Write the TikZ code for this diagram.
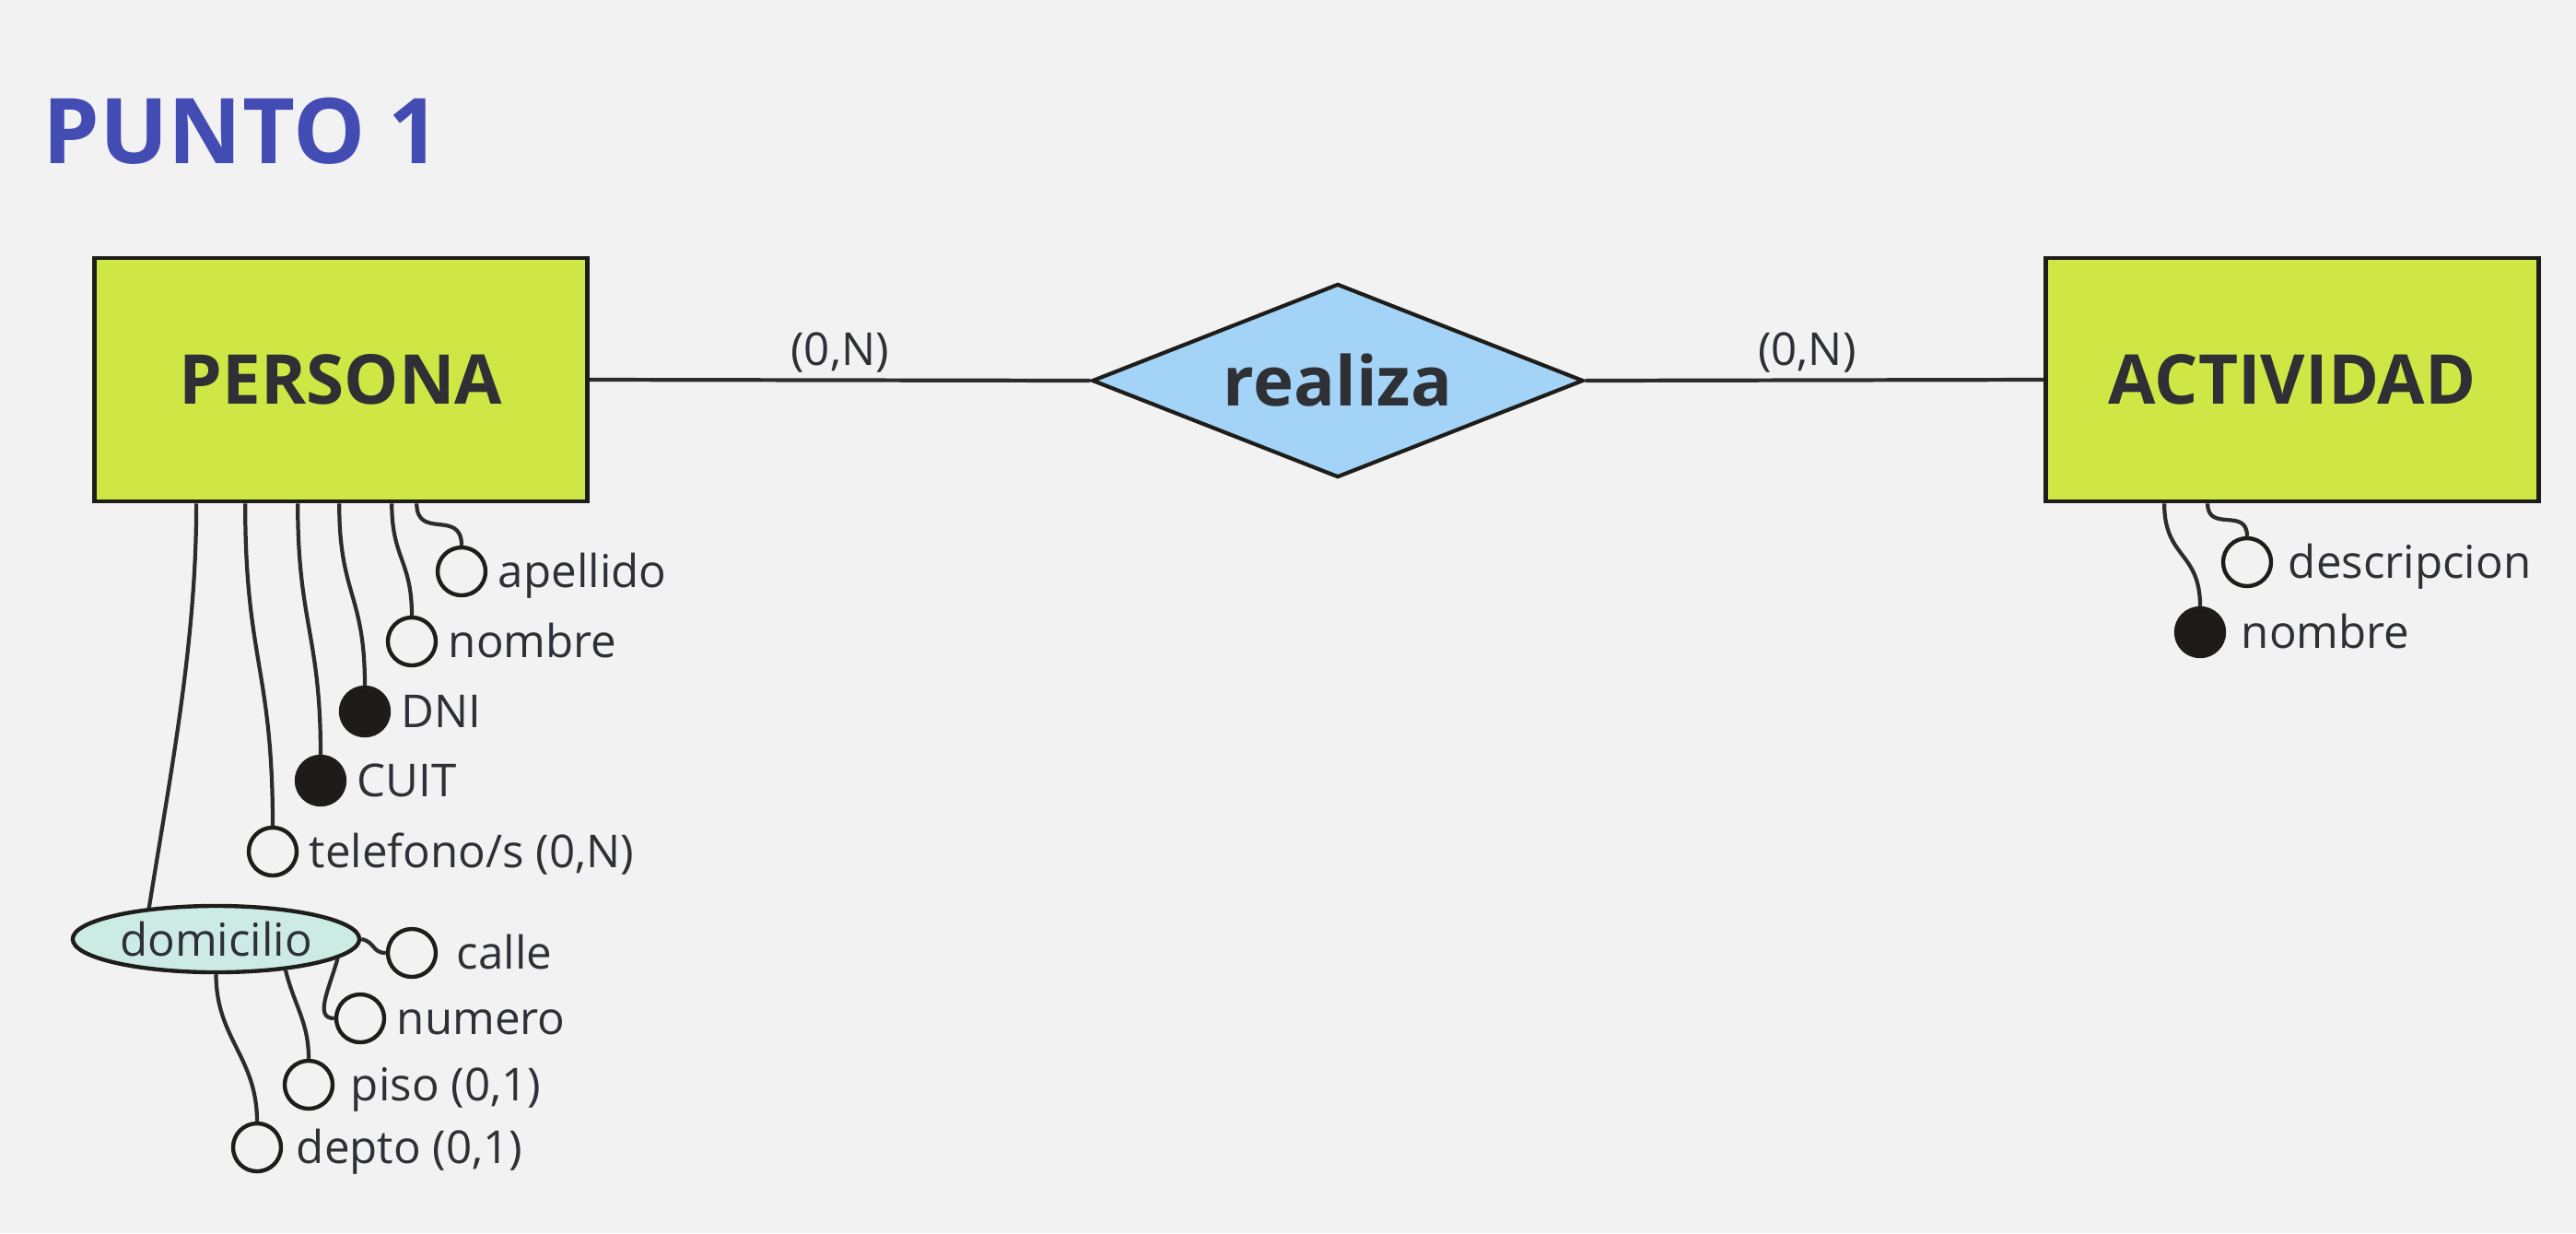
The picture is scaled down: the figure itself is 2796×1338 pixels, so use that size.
\documentclass[tikz,border=0pt]{standalone}
\usepackage{fontspec}
\setmainfont{Open Sans}
\usetikzlibrary{shapes.geometric}
\definecolor{bg}{HTML}{F2F2F2}
\definecolor{entfill}{HTML}{CFE744}
\definecolor{relfill}{HTML}{A3D4F7}
\definecolor{ellfill}{HTML}{CDEBE5}
\definecolor{keyfill}{HTML}{1C1B19}
\definecolor{boxline}{HTML}{1E1D1A}
\definecolor{txt}{HTML}{2E3035}
\definecolor{conncol}{HTML}{2C2C2C}
\definecolor{titlecol}{HTML}{434CB3}
\begin{document}
\begin{tikzpicture}[x=0.01cm,y=-0.01cm,
  entity/.style={draw=boxline, line width=1.3pt, fill=entfill, minimum width=5.35cm, minimum height=2.64cm, inner sep=0pt, text=txt, font=\fontsize{21.2}{26}\selectfont\bfseries},
  rel/.style={diamond, draw=boxline, line width=1.2pt, fill=relfill, minimum width=5.33cm, minimum height=2.1cm, aspect=2.5, inner sep=0pt, text=txt, font=\fontsize{21.2}{26}\selectfont\bfseries},
  attr/.style={circle, draw=boxline, line width=1.25pt, fill=bg, minimum size=0.52cm, inner sep=0pt},
  keyattr/.style={attr, fill=keyfill},
  composite/.style={ellipse, draw=boxline, line width=1.25pt, fill=ellfill, minimum width=3.11cm, minimum height=0.72cm, inner sep=0pt, text=txt, font=\fontsize{14}{17}\selectfont},
  lab/.style={anchor=base west, inner sep=0pt, xshift=0.11cm, yshift=-0.17cm, text=txt, font=\fontsize{14}{17}\selectfont},
  card/.style={inner sep=0pt, text=txt, font=\fontsize{14}{17}\selectfont},
  conn/.style={draw=conncol, line width=1.2pt},
  titlestyle/.style={anchor=base west, inner sep=0pt, text=titlecol, font=\fontsize{28}{33}\selectfont\bfseries},
]
\fill[bg] (0,0) rectangle (2796,1338);
\useasboundingbox (0,0) rectangle (2796,1338);

\node[titlestyle] (title) at (46,177) {PUNTO 1};

% entities and relationship
\node[entity] (persona) at (370,412) {PERSONA};
\node[entity] (actividad) at (2488,412) {ACTIVIDAD};
\node[rel] (realiza) at (1452,413) {realiza};

\draw[conn] (persona.east) -- node[card, above=0.06cm] (c1) {(0,N)} (realiza.west);
\draw[conn] (realiza.east) -- node[card, above=0.06cm, xshift=-0.08cm] (c2) {(0,N)} (actividad.west);

% PERSONA attributes
\node[attr] (apellido) at (501,620) {};
\node[attr] (nombre) at (447,696) {};
\node[keyattr] (dni) at (396,772) {};
\node[keyattr] (cuit) at (348,847) {};
\node[attr] (telefono) at (296,924) {};
\node[composite] (domicilio) at (234.5,1019) {domicilio};

\node[lab] (tapellido) at (apellido.east) {apellido};
\node[lab] (tnombre) at (nombre.east) {nombre};
\node[lab] (tdni) at (dni.east) {DNI};
\node[lab] (tcuit) at (cuit.east) {CUIT};
\node[lab] (ttelefono) at (telefono.east) {telefono/s (0,N)};

\draw[conn] ([xshift=3.52cm]persona.south west) .. controls +(0,40) and +(0,-40) .. (apellido.north);
\draw[conn] ([xshift=3.25cm]persona.south west) .. controls +(0,60) and +(0,-60) .. (nombre.north);
\draw[conn] ([xshift=2.68cm]persona.south west) .. controls +(0,100) and +(0,-100) .. (dni.north);
\draw[conn] ([xshift=2.23cm]persona.south west) .. controls +(0,130) and +(0,-130) .. (cuit.north);
\draw[conn] ([xshift=1.66cm]persona.south west) .. controls +(0,170) and +(0,-170) .. (telefono.north);
\draw[conn] ([xshift=1.13cm]persona.south west) .. controls +(0,150) and +(24,-150) .. (domicilio.155);

% domicilio components
\node[attr] (calle) at (447,1034) {};
\node[attr] (numero) at (391,1105) {};
\node[attr] (piso) at (335,1177) {};
\node[attr] (depto) at (279,1245) {};

\node[lab, xshift=0.09cm] (tcalle) at (calle.east) {calle};
\node[lab] (tnumero) at (numero.east) {numero};
\node[lab, xshift=0.06cm] (tpiso) at (piso.east) {piso (0,1)};
\node[lab, xshift=0.03cm] (tdepto) at (depto.east) {depto (0,1)};

\draw[conn] (domicilio.east) .. controls +(15,3) and +(-15,0) .. (calle.west);
\draw[conn] (domicilio.-9) .. controls +(-10,35) and +(-22,0) .. (numero.west);
\draw[conn] (domicilio.-24) .. controls +(10,40) and +(0,-40) .. (piso.north);
\draw[conn] (domicilio.south) .. controls +(0,70) and +(0,-70) .. (depto.north);

% ACTIVIDAD attributes
\node[attr] (descripcion) at (2439,610) {};
\node[keyattr] (nombreact) at (2388,686) {};
\node[lab, xshift=0.05cm] (tdescripcion) at (descripcion.east) {descripcion};
\node[lab, xshift=0.05cm] (tnombreact) at (nombreact.east) {nombre};

\draw[conn] ([xshift=1.78cm]actividad.south west) .. controls +(0,32) and +(0,-32) .. (descripcion.north);
\draw[conn] ([xshift=1.31cm]actividad.south west) .. controls +(0,60) and +(0,-60) .. (nombreact.north);
\end{tikzpicture}
\end{document}
